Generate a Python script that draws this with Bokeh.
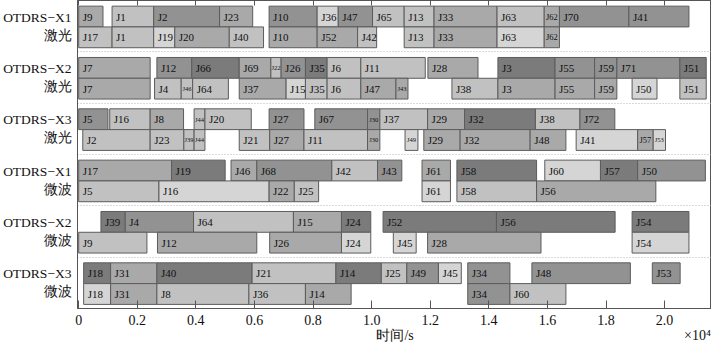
from bokeh.plotting import figure
from bokeh.models import Range1d, FixedTicker, LinearAxis, ColumnDataSource
from bokeh.embed import file_html
from bokeh.resources import INLINE
from bokeh.core.properties import value

# ---------------- data (time in units of 10^4 s) ----------------
row_labels = ["OTDRS\u2212X1\n激光", "OTDRS\u2212X2\n激光", "OTDRS\u2212X3\n激光",
              "OTDRS\u2212X1\n微波", "OTDRS\u2212X2\n微波", "OTDRS\u2212X3\n微波"]
x_ticks = [0, 0.2, 0.4, 0.6, 0.8, 1.0, 1.2, 1.4, 1.6, 1.8, 2.0]
x_title = "时间/s"
x_scale_note = "×10⁴"

# OTDRS-X1 激光
r1a_job = ["J9", "J1", "J2", "J23", "J10", "J36", "J47", "J65", "J13", "J33", "J63", "J62", "J70", "J41"]
r1a_start = [0.0, 0.114, 0.256, 0.481, 0.65, 0.814, 0.886, 1.003, 1.111, 1.213, 1.428, 1.589, 1.641, 1.878]
r1a_end = [0.083, 0.256, 0.481, 0.594, 0.814, 0.886, 1.003, 1.111, 1.213, 1.428, 1.589, 1.641, 1.878, 2.083]
r1b_job = ["J17", "J1", "J19", "J20", "J40", "J10", "J52", "J42", "J13", "J33", "J63", "J62"]
r1b_start = [0.0, 0.114, 0.256, 0.328, 0.514, 0.65, 0.814, 0.952, 1.111, 1.213, 1.428, 1.589]
r1b_end = [0.114, 0.256, 0.328, 0.514, 0.631, 0.814, 0.952, 1.017, 1.213, 1.428, 1.589, 1.641]

# OTDRS-X2 激光
r2a_job = ["J7", "J12", "J66", "J69", "J22", "J26", "J35", "J6", "J11", "J28", "J3", "J55", "J59", "J71", "J51"]
r2a_start = [0.0, 0.267, 0.386, 0.548, 0.656, 0.691, 0.774, 0.848, 0.963, 1.192, 1.431, 1.626, 1.761, 1.837, 2.052]
r2a_end = [0.244, 0.386, 0.548, 0.656, 0.691, 0.774, 0.848, 0.963, 1.183, 1.363, 1.626, 1.761, 1.837, 2.052, 2.142]
r2b_job = ["J7", "J4", "J46", "J64", "J37", "J15", "J35", "J6", "J47", "J43", "J38", "J3", "J55", "J59", "J50", "J51"]
r2b_start = [0.0, 0.259, 0.35, 0.389, 0.548, 0.708, 0.774, 0.848, 0.963, 1.083, 1.274, 1.431, 1.626, 1.761, 1.889, 2.052]
r2b_end = [0.244, 0.35, 0.389, 0.511, 0.708, 0.774, 0.848, 0.963, 1.083, 1.124, 1.431, 1.626, 1.761, 1.837, 1.974, 2.142]

# OTDRS-X3 激光
r3a_job = ["J5", "J16", "J8", "J44", "J20", "J27", "J67", "J30", "J37", "J29", "J32", "J38", "J72"]
r3a_start = [0.0, 0.106, 0.244, 0.394, 0.431, 0.65, 0.806, 0.986, 1.028, 1.191, 1.317, 1.559, 1.711]
r3a_end = [0.1, 0.244, 0.358, 0.431, 0.589, 0.769, 0.986, 1.028, 1.191, 1.317, 1.559, 1.711, 1.83]
r3b_job = ["J2", "J23", "J39", "J44", "J21", "J27", "J11", "J30", "J49", "J29", "J32", "J48", "J41", "J57", "J53"]
r3b_start = [0.014, 0.244, 0.359, 0.394, 0.548, 0.652, 0.769, 0.986, 1.114, 1.178, 1.302, 1.541, 1.698, 1.908, 1.961]
r3b_end = [0.244, 0.359, 0.394, 0.431, 0.652, 0.769, 0.986, 1.028, 1.158, 1.302, 1.541, 1.663, 1.908, 1.961, 2.003]

# OTDRS-X1 微波
r4a_job = ["J17", "J19", "J46", "J68", "J42", "J43", "J61", "J58", "J60", "J57", "J50"]
r4a_start = [0.0, 0.317, 0.52, 0.608, 0.864, 1.02, 1.172, 1.291, 1.591, 1.781, 1.908]
r4a_end = [0.317, 0.5, 0.608, 0.864, 1.02, 1.103, 1.269, 1.563, 1.781, 1.908, 2.139]
r4b_job = ["J5", "J16", "J22", "J25", "J61", "J58", "J56"]
r4b_start = [0.0, 0.274, 0.65, 0.736, 1.172, 1.291, 1.563]
r4b_end = [0.274, 0.65, 0.736, 0.819, 1.269, 1.563, 1.97]

# OTDRS-X2 微波
r5a_job = ["J39", "J4", "J64", "J15", "J24", "J52", "J56", "J54"]
r5a_start = [0.076, 0.159, 0.392, 0.733, 0.897, 1.039, 1.426, 1.889]
r5a_end = [0.159, 0.392, 0.733, 0.897, 0.997, 1.426, 1.831, 2.083]
r5b_job = ["J9", "J12", "J26", "J24", "J45", "J28", "J54"]
r5b_start = [0.0, 0.269, 0.652, 0.897, 1.074, 1.191, 1.889]
r5b_end = [0.233, 0.608, 0.897, 0.997, 1.152, 1.578, 2.083]

# OTDRS-X3 微波
r6a_job = ["J18", "J31", "J40", "J21", "J14", "J25", "J49", "J45", "J34", "J48", "J53"]
r6a_start = [0.017, 0.109, 0.267, 0.592, 0.878, 1.033, 1.12, 1.228, 1.328, 1.547, 1.958]
r6a_end = [0.109, 0.267, 0.592, 0.878, 1.033, 1.12, 1.228, 1.306, 1.472, 1.883, 2.053]
r6b_job = ["J18", "J31", "J8", "J36", "J14", "J34", "J60"]
r6b_start = [0.017, 0.109, 0.267, 0.581, 0.774, 1.328, 1.472]
r6b_end = [0.109, 0.267, 0.581, 0.774, 0.93, 1.472, 1.663]

# ---------------- styles ----------------
palette = {"D": "#7b7b7b", "M": "#929292", "m": "#a9a9a9", "L": "#c1c1c1", "V": "#d5d5d5"}
r1a_shade = "mLMmMVMLLmLmMM"
r1b_shade = "LLVmLmmLLmVm"
r2a_shade = "mMDmLMDLLmDMMMD"
r2b_shade = "mLLLmVLLmmLmmmVL"
r3a_shade = "MLmLLMMMLmDLM"
r3b_shade = "LLLLLmLmVmmmVmV"
r4a_shade = "mDmMLMmDVDM"
r4b_shade = "LVmLVLm"
r5a_shade = "DMLmDDDD"
r5b_shade = "LmmVVmV"
r6a_shade = "DmDLDLMVMMM"
r6b_shade = "VmLLmML"

rows = [
    (r1a_job, r1a_start, r1a_end, r1a_shade), (r1b_job, r1b_start, r1b_end, r1b_shade),
    (r2a_job, r2a_start, r2a_end, r2a_shade), (r2b_job, r2b_start, r2b_end, r2b_shade),
    (r3a_job, r3a_start, r3a_end, r3a_shade), (r3b_job, r3b_start, r3b_end, r3b_shade),
    (r4a_job, r4a_start, r4a_end, r4a_shade), (r4b_job, r4b_start, r4b_end, r4b_shade),
    (r5a_job, r5a_start, r5a_end, r5a_shade), (r5b_job, r5b_start, r5b_end, r5b_shade),
    (r6a_job, r6a_start, r6a_end, r6a_shade), (r6b_job, r6b_start, r6b_end, r6b_shade),
]

bars = dict(left=[], right=[], top=[], bottom=[], color=[])
big = dict(x=[], y=[], text=[])
mid = dict(x=[], y=[], text=[])
small = dict(x=[], y=[], text=[])
for k, (jobs, st, en, sh) in enumerate(rows):
    r = k // 2
    if k % 2 == 0:
        y0, y1 = r + 0.11, r + 0.515
    else:
        y0, y1 = r + 0.515, r + 0.92
    for j, a, b, c in zip(jobs, st, en, sh):
        bars["left"].append(a); bars["right"].append(b)
        bars["bottom"].append(y0); bars["top"].append(y1)
        bars["color"].append(palette[c])
        w = b - a
        yc = (y0 + y1) / 2
        if w < 0.047:
            small["x"].append((a + b) / 2); small["y"].append(yc); small["text"].append(j)
        elif w < 0.06:
            mid["x"].append((a + b) / 2); mid["y"].append(yc); mid["text"].append(j)
        else:
            big["x"].append(a); big["y"].append(yc); big["text"].append(j)

FONT = "Liberation Serif"
INK = "#111111"
FRAME = "#555555"
p = figure(width=711, height=345, output_backend="svg", toolbar_location=None,
           x_range=Range1d(-0.004, 2.16), y_range=Range1d(6, 0),
           min_border_left=0, min_border_right=0, min_border_top=0, min_border_bottom=0)
p.background_fill_color = "white"
p.outline_line_color = FRAME
p.outline_line_width = 1

p.quad(left="left", right="right", top="top", bottom="bottom", fill_color="color",
       line_color="#5c5c5c", line_width=1, source=ColumnDataSource(bars))
p.text(x="x", y="y", text="text", source=ColumnDataSource(big), x_offset=4,
       text_font=value(FONT), text_font_size="11px", text_align="left",
       text_baseline="middle", text_color=INK)
p.text(x="x", y="y", text="text", source=ColumnDataSource(mid),
       text_font=value(FONT), text_font_size="8.5px", text_align="center",
       text_baseline="middle", text_color=INK)
p.text(x="x", y="y", text="text", source=ColumnDataSource(small),
       text_font=value(FONT), text_font_size="6.5px", text_align="center",
       text_baseline="middle", text_color=INK)

# grids
p.xgrid.grid_line_color = None
p.ygrid.ticker = FixedTicker(ticks=[1, 2, 3, 4, 5])
p.ygrid.grid_line_color = "#b5b5b5"
p.ygrid.grid_line_dash = "1 2"

# x axis (ticks)
p.xaxis.ticker = FixedTicker(ticks=x_ticks)
p.xaxis.major_label_overrides = {t: ("0" if t == 0 else f"{t:.1f}") for t in x_ticks}
p.xaxis.major_tick_in = 8
p.xaxis.major_tick_out = 0
p.xaxis.minor_tick_line_color = None
p.xaxis.axis_line_color = FRAME
p.xaxis.major_tick_line_color = FRAME
p.xaxis.major_label_text_font = FONT
p.xaxis.major_label_text_font_size = "14px"
p.xaxis.major_label_text_color = INK
p.xaxis.major_label_standoff = 6

# second line under the axis: title and scale note on one row
note_pos = [1.08, 2.112]
note_axis = LinearAxis(ticker=FixedTicker(ticks=note_pos),
                       major_label_overrides={note_pos[0]: x_title, note_pos[1]: x_scale_note},
                       axis_line_color=None, major_tick_line_color=None,
                       minor_tick_line_color=None, major_tick_in=0, major_tick_out=0,
                       major_label_standoff=0,
                       major_label_text_font=FONT, major_label_text_font_size="14px",
                       major_label_text_color=INK)
p.add_layout(note_axis, "below")

# top ticks
top = LinearAxis(ticker=FixedTicker(ticks=x_ticks),
                 major_label_overrides={t: "" for t in x_ticks},
                 major_label_text_font_size="1px", major_label_standoff=0,
                 major_tick_in=5, major_tick_out=0, minor_tick_line_color=None,
                 axis_line_color=FRAME, major_tick_line_color=FRAME)
p.add_layout(top, "above")

# y axis
p.yaxis.ticker = FixedTicker(ticks=[0.5, 1.5, 2.5, 3.5, 4.5, 5.5])
p.yaxis.major_label_overrides = {i + 0.5: lab for i, lab in enumerate(row_labels)}
p.yaxis.major_tick_in = 0
p.yaxis.major_tick_out = 0
p.yaxis.minor_tick_line_color = None
p.yaxis.axis_line_color = FRAME
p.yaxis.major_label_text_font = FONT
p.yaxis.major_label_text_font_size = "13.5px"
p.yaxis.major_label_text_color = INK
p.yaxis.major_label_text_align = "center"
p.yaxis.major_label_standoff = 6

open("out.html", "w").write(file_html(p, INLINE))
